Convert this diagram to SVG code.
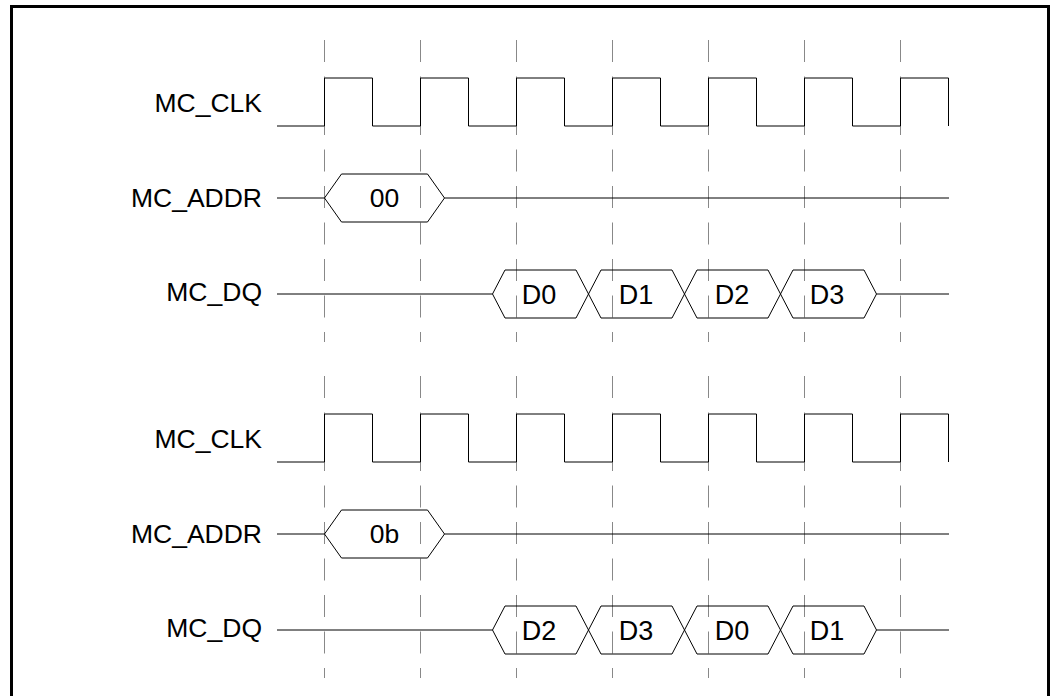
<svg xmlns="http://www.w3.org/2000/svg" width="1059" height="696" viewBox="0 0 1059 696">
  <style>
    .frame { fill: none; stroke: #000; stroke-width: 3; }
    .grid { stroke: #888; stroke-width: 1; stroke-dasharray: 22 14.5; fill: none; }
    .sig { fill: none; stroke: #000; stroke-width: 1; }
    .lbl { font-family: "Liberation Sans", Arial, sans-serif; font-size: 26.5px; fill: #000; text-anchor: end; }
    .val { font-family: "Liberation Sans", Arial, sans-serif; font-size: 27px; fill: #000; text-anchor: middle; }
  </style>
  <rect width="1059" height="696" fill="#fff"/>
  <rect id="frame" class="frame" x="11.5" y="6.5" width="1037" height="710"/>

  <g id="connectors">
    <g id="grid-top" class="grid">
      <line x1="324.5" y1="40" x2="324.5" y2="342"/>
      <line x1="420.5" y1="40" x2="420.5" y2="342"/>
      <line x1="516.5" y1="40" x2="516.5" y2="342"/>
      <line x1="612.5" y1="40" x2="612.5" y2="342"/>
      <line x1="708.5" y1="40" x2="708.5" y2="342"/>
      <line x1="804.5" y1="40" x2="804.5" y2="342"/>
      <line x1="900.5" y1="40" x2="900.5" y2="342"/>
    </g>
    <g id="grid-bottom" class="grid">
      <line x1="324.5" y1="376" x2="324.5" y2="678"/>
      <line x1="420.5" y1="376" x2="420.5" y2="678"/>
      <line x1="516.5" y1="376" x2="516.5" y2="678"/>
      <line x1="612.5" y1="376" x2="612.5" y2="678"/>
      <line x1="708.5" y1="376" x2="708.5" y2="678"/>
      <line x1="804.5" y1="376" x2="804.5" y2="678"/>
      <line x1="900.5" y1="376" x2="900.5" y2="678"/>
    </g>
  </g>

  <defs>
    <g id="clkwave">
      <path class="sig" d="M277,126 H324.5 V78 H372.5 V126 H420.5 V78 H468.5 V126 H516.5 V78 H564.5 V126 H612.5 V78 H660.5 V126 H708.5 V78 H756.5 V126 H804.5 V78 H852.5 V126 H900.5 V78 H948.5 V126"/>
    </g>
  </defs>

  <!-- Top group -->
  <g id="clk1">
    <text class="lbl" x="262" y="112">MC_CLK</text>
    <use href="#clkwave"/>
  </g>
  <g id="addr1">
    <text class="lbl" x="262" y="206.5">MC_ADDR</text>
    <path class="sig" d="M277,198 H324.5 M444.5,198 H949"/>
    <path class="sig" d="M324.5,198 L341.5,174 H427.5 L444.5,198 L427.5,222 H341.5 Z"/>
    <text class="val" x="384.5" y="206.5" style="font-size:26.5px">00</text>
  </g>
  <g id="dq1">
    <text class="lbl" x="262" y="300.5">MC_DQ</text>
    <path class="sig" d="M277,294 H492.5 M876.5,294 H949"/>
    <path class="sig" d="M492.5,294 L505,270 H576 L588.5,294 L576,318 H505 Z"/>
    <path class="sig" d="M588.5,294 L601,270 H672 L684.5,294 L672,318 H601 Z"/>
    <path class="sig" d="M684.5,294 L697,270 H768 L780.5,294 L768,318 H697 Z"/>
    <path class="sig" d="M780.5,294 L793,270 H864 L876.5,294 L864,318 H793 Z"/>
    <text class="val" x="539" y="304">D0</text>
    <text class="val" x="636" y="304">D1</text>
    <text class="val" x="732" y="304">D2</text>
    <text class="val" x="827" y="304">D3</text>
  </g>

  <!-- Bottom group -->
  <g id="clk2">
    <text class="lbl" x="262" y="448">MC_CLK</text>
    <use href="#clkwave" transform="translate(0,336)"/>
  </g>
  <g id="addr2">
    <text class="lbl" x="262" y="542.5">MC_ADDR</text>
    <path class="sig" d="M277,534 H324.5 M444.5,534 H949"/>
    <path class="sig" d="M324.5,534 L341.5,510 H427.5 L444.5,534 L427.5,558 H341.5 Z"/>
    <text class="val" x="384.5" y="542.5" style="font-size:26.5px">0b</text>
  </g>
  <g id="dq2">
    <text class="lbl" x="262" y="636.5">MC_DQ</text>
    <path class="sig" d="M277,630 H492.5 M876.5,630 H949"/>
    <path class="sig" d="M492.5,630 L505,606 H576 L588.5,630 L576,654 H505 Z"/>
    <path class="sig" d="M588.5,630 L601,606 H672 L684.5,630 L672,654 H601 Z"/>
    <path class="sig" d="M684.5,630 L697,606 H768 L780.5,630 L768,654 H697 Z"/>
    <path class="sig" d="M780.5,630 L793,606 H864 L876.5,630 L864,654 H793 Z"/>
    <text class="val" x="539" y="640">D2</text>
    <text class="val" x="636" y="640">D3</text>
    <text class="val" x="732" y="640">D0</text>
    <text class="val" x="827" y="640">D1</text>
  </g>
</svg>
